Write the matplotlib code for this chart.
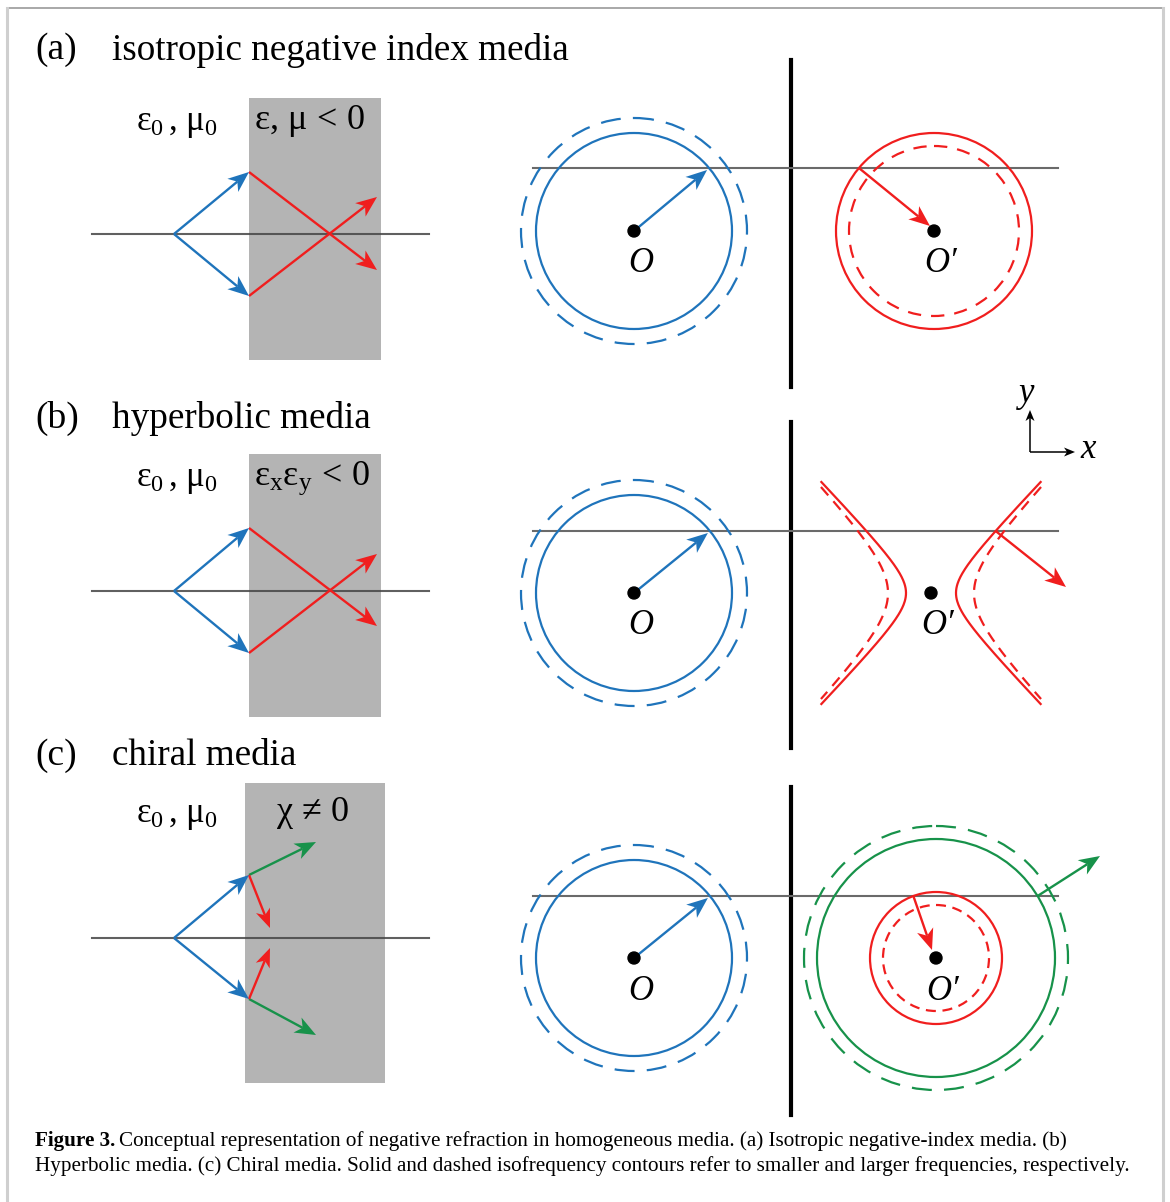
import numpy as np
import matplotlib
matplotlib.use('Agg')
import matplotlib.pyplot as plt
from matplotlib.patches import Circle, Rectangle, Polygon

matplotlib.rcParams['font.family'] = 'Liberation Serif'
matplotlib.rcParams['mathtext.fontset'] = 'custom'
matplotlib.rcParams['mathtext.rm'] = 'Liberation Serif'
matplotlib.rcParams['mathtext.it'] = 'Liberation Serif:italic'

BLUE = '#1f74bb'
RED = '#f01e1e'
GREEN = '#17924a'
SLAB = '#b4b4b4'
AXIS = '#6a6a6a'

# everything below is in pixel coordinates of the figure, y pointing down
row_tags = ['(a)', '(b)', '(c)']
row_titles = ['isotropic negative index media', 'hyperbolic media', 'chiral media']
title_y = [50, 418, 756]

vacuum_labels = [r'$\mathrm{\epsilon_0\,,\,\mu_0}$'] * 3
slab_labels = [r'$\mathrm{\epsilon,\,\mu\,<\,0}$', r'$\mathrm{\epsilon_x\epsilon_y\,<\,0}$',
               r'$\mathrm{\chi\,\neq\,0}$']
label_y = [123, 480, 815]
slab_label_x = [254, 254, 276]

slab_x = [(249, 381), (249, 381), (245, 385)]
slab_y = [(98, 360), (454, 717), (783, 1083)]
left_axis_y = [234, 591, 938]
source_x = 174
interface_x = 249
incident_dy = [(-62, 62), (-63, 62), (-63, 61)]
# refracted rays: (end dx, end dy) relative to interface point
refr_red_ab = [(128, 98), (128, -99)]
chiral_green = [(67, -33), (67, 36)]
chiral_red = [(21, 53), (21, -51)]

# right panels
sep_x = 791
sep_segments = [(60, 387), (422, 748), (787, 1115)]
right_axis_y = [168, 531, 896]
right_axis_x = (533, 1058)
o_x = 634
op_x = [934, 931, 936]
center_y = [231, 593, 958]
blue_r = (98, 113)          # solid, dashed
red_a_r = (98, 85)
red_c_r = (66, 53)
green_c_r = (119, 132)
hyp_solid = (25, 26, 111)   # a, b, half height
hyp_dash = (43, 45, 106)

caption_1 = ('Conceptual representation of negative refraction in homogeneous media. '
             '(a) Isotropic negative-index media. (b)')
caption_2 = ('Hyperbolic media. (c) Chiral media. Solid and dashed isofrequency contours '
             'refer to smaller and larger frequencies, respectively.')


def arrow(ax, x0, y0, x1, y1, color, lw=1.7, hl=21, hw=8.5):
    d = np.array([x1 - x0, y1 - y0], dtype=float)
    u = d / np.hypot(*d)
    n = np.array([-u[1], u[0]])
    tip = np.array([x1, y1], dtype=float)
    back = tip - u * hl
    notch = tip - u * hl * 0.72
    ax.plot([x0, notch[0]], [y0, notch[1]], color=color, lw=lw,
            solid_capstyle='butt', zorder=4)
    ax.add_patch(Polygon([tip, back + n * hw, notch, back - n * hw],
                         closed=True, color=color, lw=0, zorder=5))


def ring(ax, x, y, r, color, dashes=None, lw=1.6):
    ls = '-' if dashes is None else (0, dashes)
    ax.add_patch(Circle((x, y), r, fill=False, ec=color, lw=lw, ls=ls, zorder=3))


def dot(ax, x, y, label):
    ax.add_patch(Circle((x, y), 6, color='black', zorder=6))
    ax.text(x + 7, y + 33, label, fontsize=25, style='italic',
            ha='center', va='center', zorder=6)


fig = plt.figure(figsize=(11.7, 12.02), dpi=100)
ax = fig.add_axes([0, 0, 1, 1])
ax.set_xlim(0, 1170)
ax.set_ylim(1202, 0)
ax.axis('off')

# frame
ax.plot([7, 1163], [8, 8], color='#9a9a9a', lw=1.2)
ax.plot([7, 7], [8, 1202], color='#cfcfcf', lw=2.2)
ax.plot([1163, 1163], [8, 1202], color='#cfcfcf', lw=2.2)

for i in range(3):
    ax.text(35, title_y[i], row_tags[i], fontsize=27, va='center')
    ax.text(112, title_y[i], row_titles[i], fontsize=26.7, va='center')

    # left: slab with rays
    x0, x1 = slab_x[i]
    y0, y1 = slab_y[i]
    ax.add_patch(Rectangle((x0, y0), x1 - x0, y1 - y0, color=SLAB, lw=0, zorder=1))
    ay = left_axis_y[i]
    ax.plot([92, 429], [ay, ay], color='#444444', lw=1.5, alpha=0.85, zorder=2)
    ax.text(136, label_y[i], vacuum_labels[i], fontsize=25, va='center')
    ax.text(slab_label_x[i], label_y[i] - 2, slab_labels[i], fontsize=26, va='center')

    for k, dy in enumerate(incident_dy[i]):
        arrow(ax, source_x, ay, interface_x, ay + dy, BLUE)
        iy = ay + dy
        if i < 2:
            ex, ey = refr_red_ab[k]
            arrow(ax, interface_x, iy, interface_x + ex, iy + ey, RED)
        else:
            gx, gy = chiral_green[k]
            arrow(ax, interface_x, iy, interface_x + gx, iy + gy, GREEN)
            rx, ry = chiral_red[k]
            arrow(ax, interface_x, iy, interface_x + rx, iy + ry, RED, hl=19, hw=7.5)

    # right: isofrequency contours
    s0, s1 = sep_segments[i]
    ax.plot([sep_x, sep_x], [s0, s1], color='black', lw=3.0, zorder=2)
    ry = right_axis_y[i]
    ax.plot(right_axis_x, [ry, ry], color=AXIS, lw=1.5, zorder=2)
    cy = center_y[i]

    ring(ax, o_x, cy, blue_r[0], BLUE)
    ring(ax, o_x, cy, blue_r[1], BLUE, dashes=(9, 5.5))
    bx = o_x + np.sqrt(blue_r[0] ** 2 - (ry - cy) ** 2)
    arrow(ax, o_x, cy, bx - 2, ry + 2, BLUE)
    dot(ax, o_x, cy, 'O')

    cx = op_x[i]
    if i == 0:
        ring(ax, cx, cy, red_a_r[0], RED)
        ring(ax, cx, cy, red_a_r[1], RED, dashes=(6, 4.5))
        sx = cx - np.sqrt(red_a_r[0] ** 2 - (ry - cy) ** 2)
        arrow(ax, sx, ry, cx - 4, cy - 5, RED)
    elif i == 1:
        for (a, b, h), ls, lw in [(hyp_solid, '-', 1.6), (hyp_dash, (0, (5, 3.5)), 1.6)]:
            yy = np.linspace(-h, h, 200)
            xx = a * np.sqrt(1 + (yy / b) ** 2)
            ax.plot(cx + xx, cy + yy, color=RED, lw=lw, ls=ls, zorder=3)
            ax.plot(cx - xx, cy + yy, color=RED, lw=lw, ls=ls, zorder=3)
        a, b, h = hyp_solid
        sx = cx + a * np.sqrt(1 + ((ry - cy) / b) ** 2)
        arrow(ax, sx, ry, 1066, 587, RED)
        # coordinate indicator
        arrow(ax, 1030, 452, 1030, 410, 'black', lw=1.1, hl=11, hw=4.5)
        arrow(ax, 1030, 452, 1075, 452, 'black', lw=1.1, hl=11, hw=4.5)
        ax.text(1027, 393, 'y', fontsize=25, style='italic', ha='center', va='center')
        ax.text(1088, 450, 'x', fontsize=25, style='italic', ha='center', va='center')
    else:
        ring(ax, cx, cy, green_c_r[0], GREEN)
        ring(ax, cx, cy, green_c_r[1], GREEN, dashes=(9, 5.5))
        ring(ax, cx, cy, red_c_r[0], RED)
        ring(ax, cx, cy, red_c_r[1], RED, dashes=(4.5, 3))
        sx = cx - np.sqrt(red_c_r[0] ** 2 - (ry - cy) ** 2)
        arrow(ax, sx, ry, cx - 4, cy - 8, RED)
        gx = cx + np.sqrt(green_c_r[0] ** 2 - (ry - cy) ** 2)
        arrow(ax, gx, ry, 1100, 856, GREEN)
    dot(ax, cx, cy, "O\u2032")

# caption
cap_size = 15.2
t = ax.text(35, 1141, 'Figure 3.', fontsize=cap_size, weight='bold', va='center')
fig.canvas.draw()
bb = t.get_window_extent()
ax.text(bb.x1 + 4, 1141, caption_1, fontsize=cap_size, va='center')
ax.text(35, 1166, caption_2, fontsize=cap_size, va='center')

fig.savefig('out.png', dpi=100, facecolor='white')
